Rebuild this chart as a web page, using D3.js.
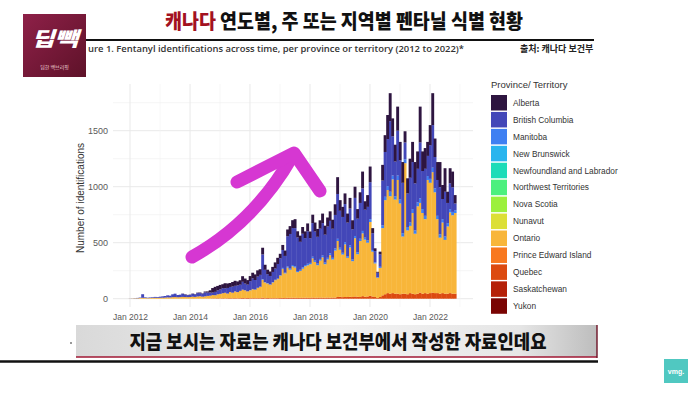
<!DOCTYPE html>
<html>
<head>
<meta charset="utf-8">
<script src="https://cdn.jsdelivr.net/npm/d3@7"></script>
<style>
  body { margin: 0; background: #fff; }
  svg { display: block; }
</style>
</head>
<body>
<div id="graph-section"></div>
<script>
// monthly identifications, Jan 2012 .. Nov 2022
var ontario = [
  1,2,3,4,6,8,6,5,6,7,8,8,
  8,9,10,12,11,14,15,13,14,16,15,14,
  15,18,16,20,22,18,20,24,25,30,28,35,
  40,45,50,42,55,50,60,55,65,75,70,60,
  70,80,75,90,100,160,140,130,120,140,160,170,
  200,260,220,270,250,280,270,230,240,260,280,290,
  300,350,320,290,330,360,300,340,380,340,420,500,
  420,380,470,350,440,320,520,380,500,560,510,480,
  660,400,300,180,260,600,840,920,870,1015,840,1015,
  810,510,1165,570,600,720,540,780,800,720,660,1015,
  985,1075,900,660,500,630,480,600,720,700,720
];
var manitoba = [
  0,0,0,0,0,0,0,0,0,0,0,0,
  0,0,0,0,0,0,0,0,0,0,0,0,
  0,0,0,0,0,0,0,0,0,0,0,0,
  0,0,0,0,0,0,0,0,0,0,0,0,
  2,2,2,3,3,5,3,3,3,4,4,5,
  5,8,6,10,10,12,12,10,10,12,12,14,
  12,15,12,14,15,16,14,15,16,15,18,20,
  18,16,20,15,18,15,20,18,20,22,18,20,
  25,15,10,5,10,25,30,35,40,35,30,40,
  35,30,35,30,30,35,30,35,40,35,30,35,
  35,40,35,30,30,30,30,30,30,30,25
];
var bc = [
  1,1,2,3,4,32,6,4,5,6,8,7,
  10,12,14,18,16,25,30,20,22,28,22,18,
  20,25,22,30,28,25,35,30,28,22,30,35,
  40,45,40,50,45,55,50,60,55,70,60,60,
  80,95,85,100,105,220,110,80,75,90,100,130,
  150,160,150,270,310,330,340,300,250,300,240,290,
  220,300,260,240,270,290,250,280,290,260,300,400,
  330,320,340,300,330,270,340,300,320,380,250,300,
  330,150,100,40,110,400,400,420,630,350,310,400,
  350,450,150,300,400,420,420,300,500,340,420,180,
  300,380,280,320,420,180,400,180,230,220,60
];
var alberta = [
  0,0,0,0,0,0,0,0,0,0,0,0,
  0,0,0,0,0,0,0,0,0,2,3,2,
  2,3,3,4,5,4,8,10,20,40,45,40,
  40,35,45,40,35,40,45,35,40,50,45,40,
  45,50,50,55,50,60,45,40,40,45,55,55,
  40,45,48,60,70,70,80,55,55,60,60,70,
  60,75,80,70,75,85,80,80,85,80,95,150,
  95,90,95,80,95,80,100,85,95,150,75,105,
  140,45,25,8,25,140,150,215,250,160,150,215,
  165,185,100,135,170,180,190,155,320,175,185,125,
  180,285,165,160,225,125,210,100,135,140,75
];
var quebec = [
  0,0,0,0,0,0,0,0,0,0,0,0,
  0,0,0,0,0,0,0,0,0,0,0,0,
  0,0,0,0,0,0,1,1,2,3,3,4,
  3,4,3,4,5,4,5,4,5,6,5,6,
  5,5,5,5,5,10,5,6,5,5,5,5,
  6,7,6,8,8,9,8,7,8,8,9,8,
  8,10,8,9,10,9,8,10,9,10,10,15,
  17,14,15,15,17,15,20,17,15,23,17,20,
  25,20,15,7,15,30,40,50,45,50,45,45,
  40,45,45,40,50,45,40,45,55,45,50,45,
  50,55,50,50,45,50,45,45,50,45,45
];

var provinces = ["Alberta", "British Columbia", "Manitoba", "New Brunswick",
  "Newfoundland and Labrador", "Northwest Territories", "Nova Scotia", "Nunavut",
  "Ontario", "Prince Edward Island", "Quebec", "Saskatchewan", "Yukon"];
var provColors = ["#2e1540", "#4347b8", "#3f80f2", "#29b5ee", "#1cdcb8", "#4cf07e",
  "#9cf03c", "#dcdf36", "#f8b63a", "#f8781f", "#dc4a10", "#b52008", "#7a0403"];
var yTicks = [0, 500, 1000, 1500];
var yMinor = [250, 750, 1250, 1750];

var fullWidth = 699, fullHeight = 393;
var svg = d3.select('div#graph-section').append('svg')
  .attr('width', fullWidth)
  .attr('height', fullHeight)
  .style('font-family', 'Liberation Sans, Arial, sans-serif');

var months = d3.utcMonths(new Date(Date.UTC(2012, 0, 1)), new Date(Date.UTC(2022, 11, 1)));
var rows = months.map(function(m, i) {
  return {date: m, "Quebec": quebec[i], "Ontario": ontario[i], "Manitoba": manitoba[i],
    "British Columbia": bc[i], "Alberta": alberta[i]};
});
var keys = ["Quebec", "Ontario", "Manitoba", "British Columbia", "Alberta"];
var color = d3.scaleOrdinal().domain(provinces).range(provColors);

// scales
var x = d3.scaleUtc()
  .domain([new Date(Date.UTC(2012, 0, 1)), new Date(Date.UTC(2022, 0, 1))])
  .range([130, 430]);
var y = d3.scaleLinear().domain([0, 1500]).range([298.7, 130.7]);
var panel = {left: 113, right: 473, top: 84, bottom: 307};

// grid
var grid = svg.append('g');
grid.selectAll('line.hmin').data(yMinor).enter().append('line')
  .attr('x1', panel.left).attr('x2', panel.right)
  .attr('y1', function(d) { return y(d); }).attr('y2', function(d) { return y(d); })
  .attr('stroke', '#efefef').attr('stroke-width', 0.6);
grid.selectAll('line.hmaj').data(yTicks).enter().append('line')
  .attr('x1', panel.left).attr('x2', panel.right)
  .attr('y1', function(d) { return y(d); }).attr('y2', function(d) { return y(d); })
  .attr('stroke', '#e9e9e9').attr('stroke-width', 1);
var yearLines = d3.utcYears(new Date(Date.UTC(2012, 0, 1)), new Date(Date.UTC(2024, 0, 1)));
grid.selectAll('line.v').data(yearLines).enter().append('line')
  .attr('x1', function(d) { return x(d); }).attr('x2', function(d) { return x(d); })
  .attr('y1', panel.top).attr('y2', panel.bottom)
  .attr('stroke', function(d) { return d.getUTCFullYear() % 2 == 0 ? '#e9e9e9' : '#f1f1f1'; })
  .attr('stroke-width', function(d) { return d.getUTCFullYear() % 2 == 0 ? 1 : 0.6; });

// stacked bars
var series = d3.stack().keys(keys)(rows);
var bw = x(months[1]) - x(months[0]);
var barHolder = svg.append('g').classed('bar-holder', true);
barHolder.selectAll('g.layer')
  .data(series)
  .enter().append('g')
    .attr('fill', function(s) { return color(s.key); })
  .selectAll('rect')
  .data(function(s) { return s; })
  .enter().append('rect')
    .attr('x', function(d) { return x(d.data.date) - bw / 2; })
    .attr('width', bw + 0.35)
    .attr('y', function(d) { return y(d[1]); })
    .attr('height', function(d) { return Math.max(0, y(d[0]) - y(d[1])); });

// axes
var yAxis = d3.axisLeft(y).tickValues(yTicks).tickFormat(d3.format('d')).tickSize(0).tickPadding(0);
var yAxisEle = svg.append('g')
  .attr('transform', 'translate(108,0)')
  .call(yAxis);
yAxisEle.select('.domain').remove();
yAxisEle.selectAll('text').style('font-size', '9px').style('fill', '#5a5a5a')
  .style('font-family', 'Liberation Sans, Arial, sans-serif');

var xAxis = d3.axisBottom(x)
  .tickValues(d3.utcYears(new Date(Date.UTC(2012, 0, 1)), new Date(Date.UTC(2023, 0, 1)), 2))
  .tickFormat(d3.utcFormat('Jan %Y'))
  .tickSize(0);
var xAxisEle = svg.append('g')
  .attr('transform', 'translate(0,311)')
  .call(xAxis);
xAxisEle.select('.domain').remove();
xAxisEle.selectAll('text').style('font-size', '8.5px').style('fill', '#5a5a5a')
  .style('font-family', 'Liberation Sans, Arial, sans-serif');

svg.append('text')
  .attr('transform', 'translate(84,198) rotate(-90)')
  .attr('text-anchor', 'middle')
  .style('font-size', '10px')
  .style('fill', '#333')
  .text('Number of identifications');

// legend
var legend = svg.append('g').attr('transform', 'translate(491,0)');
legend.append('text')
  .attr('x', 0).attr('y', 88)
  .style('font-size', '9.5px').style('fill', '#333')
  .text('Province/ Territory');
var items = legend.selectAll('g.item').data(provinces).enter().append('g')
  .attr('transform', function(d, i) { return 'translate(0,' + (95 + i * 16.94) + ')'; });
items.append('rect')
  .attr('width', 16).attr('height', 15.5)
  .attr('fill', function(d) { return color(d); });
items.append('text')
  .attr('x', 22).attr('y', 10.8)
  .style('font-size', '8.3px').style('fill', '#333')
  .text(function(d) { return d; });

// header
var logo = svg.append('g');
var lg = svg.append('defs').append('linearGradient').attr('id', 'logoGrad')
  .attr('x1', 0).attr('y1', 0).attr('x2', 1).attr('y2', 1);
lg.append('stop').attr('offset', 0).attr('stop-color', '#8e2048');
lg.append('stop').attr('offset', 1).attr('stop-color', '#5e1229');
logo.append('rect').attr('x', 23).attr('y', 14).attr('width', 63).attr('height', 63)
  .attr('fill', 'url(#logoGrad)');
logo.append('text').attr('x', 54.5).attr('y', 46).attr('text-anchor', 'middle')
  .style('font-family', 'Noto Sans CJK KR').style('font-weight', 900)
  .style('font-size', '20px').style('font-style', 'italic').style('fill', '#fff')
  .attr('textLength', 46).attr('lengthAdjust', 'spacingAndGlyphs')
  .text('딥빽');
logo.append('text').attr('x', 54.5).attr('y', 69).attr('text-anchor', 'middle')
  .style('font-family', 'Noto Sans CJK KR').style('font-size', '5px').style('fill', '#f3d6de')
  .text('딥한 백브리핑');

svg.append('line').attr('x1', 86).attr('x2', 594).attr('y1', 40).attr('y2', 40)
  .attr('stroke', '#111').attr('stroke-width', 2);

var title = svg.append('text').attr('x', 344).attr('y', 29).attr('text-anchor', 'middle')
  .style('font-family', 'Noto Sans CJK KR').style('font-weight', 900).style('font-size', '20px')
  .attr('textLength', 358).attr('lengthAdjust', 'spacingAndGlyphs');
title.append('tspan').style('fill', '#a3121f').text('캐나다');
title.append('tspan').style('fill', '#111').text(' 연도별, 주 또는 지역별 펜타닐 식별 현황');

svg.append('text').attr('x', 88).attr('y', 52)
  .style('font-family', 'Open Sans').style('font-weight', 600).style('font-size', '8.6px')
  .style('fill', '#333')
  .attr('textLength', 376).attr('lengthAdjust', 'spacingAndGlyphs')
  .text('ure 1. Fentanyl identifications across time, per province or territory (2012 to 2022)*');
svg.append('text').attr('x', 520).attr('y', 52)
  .style('font-family', 'Noto Sans CJK KR').style('font-weight', 700).style('font-size', '9px')
  .style('fill', '#222')
  .text('출처: 캐나다 보건부');

// annotation arrow
var arrow = svg.append('g').attr('fill', 'none').attr('stroke', '#d637d2')
  .attr('stroke-width', 13).attr('stroke-linecap', 'round').attr('stroke-linejoin', 'round');
arrow.append('path').attr('d', 'M192,257 Q255,222 293,155');
arrow.append('path').attr('d', 'M237,182 L294,153 L320,191');

// caption bar
var cg = svg.select('defs').append('linearGradient').attr('id', 'capGrad');
cg.append('stop').attr('offset', 0).attr('stop-color', '#d9d9d9');
cg.append('stop').attr('offset', 0.5).attr('stop-color', '#f3f3f3');
cg.append('stop').attr('offset', 0.85).attr('stop-color', '#e6e6e6');
cg.append('stop').attr('offset', 1).attr('stop-color', '#bdbdbd');
svg.append('rect').attr('x', 76).attr('y', 325).attr('width', 521).attr('height', 32)
  .attr('fill', 'url(#capGrad)');
svg.append('line').attr('x1', 76).attr('x2', 597).attr('y1', 357).attr('y2', 357)
  .attr('stroke', '#a01733').attr('stroke-width', 1.6);
svg.append('line').attr('x1', 597).attr('x2', 597).attr('y1', 325).attr('y2', 358)
  .attr('stroke', '#6d1226').attr('stroke-width', 1.4);
svg.append('text').attr('x', 338).attr('y', 349).attr('text-anchor', 'middle')
  .style('font-family', 'Noto Sans CJK KR').style('font-weight', 900).style('font-size', '19px')
  .style('fill', '#111')
  .attr('textLength', 417).attr('lengthAdjust', 'spacingAndGlyphs')
  .text('지금 보시는 자료는 캐나다 보건부에서 작성한 자료인데요');
svg.append('line').attr('x1', 0).attr('x2', 598).attr('y1', 361.5).attr('y2', 361.5)
  .attr('stroke', '#111').attr('stroke-width', 2.5);
svg.append('circle').attr('cx', 71).attr('cy', 343).attr('r', 1).attr('fill', '#777');

// corner badge
svg.append('rect').attr('x', 664).attr('y', 359).attr('width', 24).attr('height', 24)
  .attr('fill', '#50c8c1');
svg.append('text').attr('x', 676).attr('y', 373.5).attr('text-anchor', 'middle')
  .style('font-weight', 700).style('font-size', '7px').style('fill', '#fff')
  .text('vmg.');
</script>
</body>
</html>
